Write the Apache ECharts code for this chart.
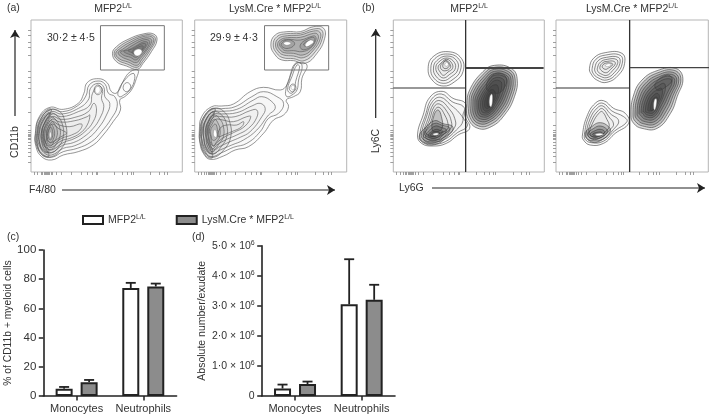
<!DOCTYPE html>
<html><head><meta charset="utf-8">
<style>html,body{margin:0;padding:0;background:#fff}#c{width:709px;height:414px}</style>
<script src="https://cdn.jsdelivr.net/npm/echarts@6/dist/echarts.min.js"></script>
</head><body><div id="c"></div>
<script>
// ---- bar chart data
const categories = ['Monocytes', 'Neutrophils'];
const seriesNames = ['MFP2', 'LysM.Cre * MFP2'];
const pctControl = [5, 74];
const pctControlUpper = [6.2, 77.5];
const pctCre = [9.5, 75];
const pctCreUpper = [11, 77];
const absControl = [0.25e6, 3.05e6];
const absControlUpper = [0.38e6, 4.55e6];
const absCre = [0.4e6, 3.2e6];
const absCreUpper = [0.48e6, 3.7e6];
const pctTicks = [0, 20, 40, 60, 80, 100];
const absTickLabels = ['0', '1·0', '2·0', '3·0', '4·0', '5·0'];
// ---- flow cytometry contours, in channel units (flat x,y lists)
const contoursA1 = [
[15,76,13,116,25,166,57,194,97,188,142,206,159,236,169,268,202,280,229,268,242,241,259,238,279,276,299,301,322,306,317,281,302,246,282,226,267,216,269,186,247,151,217,111,187,81,142,61,97,51,62,36,32,46],
[21,76,19,116,31,161,59,188,95,181,139,198,165,228,175,261,202,273,223,263,233,236,252,226,259,196,242,161,212,121,182,91,139,71,97,61,62,44,35,51],
[27,81,25,116,37,154,62,181,92,174,137,188,172,216,179,251,202,266,219,254,222,226,237,206,227,171,202,131,172,101,132,79,97,71,62,51,39,58],
[33,86,31,116,42,148,64,174,92,166,142,181,177,201,185,236,202,258,215,248,212,221,219,196,207,161,187,131,157,104,127,88,95,80,62,58,43,66],
[39,91,37,116,47,144,65,166,90,158,132,164,172,181,189,206,197,186,187,151,162,121,132,101,97,88,62,66,47,72],
[43,94,42,116,50,141,65,159,87,150,132,154,169,166,177,171,169,141,147,116,117,101,92,94,62,74,50,78],
[47,96,47,116,53,136,65,151,85,141,117,136,152,144,147,126,122,111,92,101,62,81,52,84],
[50,98,50,116,55,131,65,144,82,131,102,121,107,116,87,104,62,88,55,90],
[17,86,17,116,27,156,57,186,87,181,102,151,107,106,92,71,62,46,32,56],
[25,91,23,116,33,151,57,176,79,168,95,141,97,106,85,78,62,58,37,66],
[33,96,31,116,39,144,57,166,75,156,87,131,87,106,77,86,62,68,43,74],
[40,98,39,116,45,138,59,154,71,144,79,124,77,104,69,91,60,78,47,84],
[47,104,46,118,51,134,60,144,68,131,71,116,67,98,59,88,51,92],
[52,106,53,124,60,134,65,121,64,104,58,96],
[190,248,200,261,212,251,209,236,197,233],
[277,254,287,268,299,261,297,248,285,241],
[262,241,282,276,307,296,312,281,299,248,279,231,265,226],
[245,356,257,376,292,398,337,414,369,414,379,396,362,361,337,326,320,308,287,318,257,331],
[250,356,262,373,295,394,337,410,365,410,374,396,357,363,335,331,319,314,289,324,261,336],
[255,356,267,370,299,390,337,406,362,406,369,394,353,364,332,336,319,320,292,330,265,340],
[262,358,275,368,303,386,337,401,357,401,363,392,349,366,329,341,317,328,295,336,272,346],
[269,360,283,366,307,381,337,396,353,396,357,389,345,366,327,346,315,336,299,344,279,350],
[279,362,292,366,312,376,337,390,349,390,351,386,339,366,325,351,315,344,301,351,287,356],
[292,364,307,370,332,384,345,384,335,366,324,356,315,351,303,358],
[304,361,319,373,337,378,332,364,322,356,312,354],
[14,88,14,116,22,156,50,188,62,186,42,150,34,116,40,82,54,48,34,50],
[20,92,20,116,28,150,52,178,58,172,44,144,38,116,44,86,54,60,38,62]
];
const coresA1 = [[55,111,58,121,61,111,58,101],[193,248,200,257,208,250,205,238,197,236],[309,358,319,368,332,366,332,356,319,348]];
const contoursA2 = [
[228,381,241,411,276,421,316,421,356,436,386,431,389,401,366,356,331,326,296,334,261,336,241,351],
[235,381,246,406,276,415,316,416,356,429,380,426,382,401,361,361,328,334,296,340,264,343,246,356],
[242,381,251,401,278,409,316,411,356,423,374,420,376,400,356,366,326,343,296,348,266,351,251,361],
[248,381,256,396,278,403,316,404,356,416,368,413,369,398,351,368,324,351,296,356,268,358,256,366],
[254,383,262,394,281,398,316,396,354,408,362,406,362,394,346,371,321,361,296,364,271,364,261,371],
[259,384,276,396,296,391,298,381,281,371,264,374],
[316,381,336,398,358,403,356,386,341,371,321,368],
[326,383,341,394,351,394,349,384,336,376],
[16,86,14,126,21,166,51,196,81,198,116,204,166,241,206,254,256,246,276,261,291,301,306,326,336,321,321,281,316,241,296,226,274,216,281,196,266,171,236,156,206,116,161,76,121,66,86,48,46,38,26,56],
[22,91,20,126,28,161,52,188,81,190,121,196,171,226,206,241,246,226,266,206,251,176,221,161,196,121,156,86,116,74,81,58,48,46,30,64],
[28,96,26,126,34,156,54,181,81,182,126,188,176,216,201,226,231,211,241,191,221,171,186,126,146,96,111,81,76,66,50,54,34,71],
[34,101,32,126,40,151,56,173,81,174,126,178,171,198,196,206,211,191,201,166,166,121,136,104,106,91,71,74,52,61,38,78],
[41,104,38,126,46,148,59,166,81,166,121,166,166,184,186,186,186,164,161,131,126,111,96,98,66,81,54,70,44,86],
[48,106,44,126,52,144,63,158,84,156,116,151,156,166,168,166,151,138,116,118,91,106,66,88,56,78,50,91],
[96,141,126,141,146,151,141,136,111,121,86,111,71,106,76,131],
[19,96,18,131,28,166,56,191,88,181,106,146,108,106,91,71,56,44,28,61],
[27,101,26,131,36,161,56,181,81,171,96,141,96,106,81,78,56,54,36,71],
[35,104,34,131,42,154,58,171,76,158,86,136,86,106,74,86,56,66,42,81],
[43,106,42,128,48,146,60,158,71,144,76,126,74,104,66,91,56,78,46,91],
[49,108,48,126,54,138,62,144,68,128,68,106,61,96,53,96],
[284,254,294,264,303,254,296,241,286,244],
[272,241,284,284,301,326,321,321,311,276,306,246,291,231,276,226],
[278,248,291,286,306,321,314,316,302,271,298,246,288,236],
[16,90,16,126,24,160,50,190,62,186,42,150,36,116,42,82,54,44,34,48],
[22,94,22,122,30,152,52,180,58,172,44,144,40,116,46,86,54,58,38,60]
];
const coresA2 = [[56,111,60,128,66,116,64,104],[266,386,276,391,288,386,276,380],[331,383,346,396,356,391,346,381,334,376],[288,254,294,260,299,254,294,246]];
const contoursB1 = [
[105,311,120,346,165,361,205,341,210,301,185,271,150,258,117,276],
[113,311,125,340,163,354,198,338,202,304,180,278,150,266,122,282],
[121,312,131,334,162,348,191,334,194,306,175,286,150,274,128,288],
[128,313,137,330,162,342,184,329,186,308,170,293,151,282,135,294],
[135,314,143,326,161,338,177,325,178,310,165,300,151,290,141,300],
[142,316,149,328,161,334,172,321,171,311,159,304,147,306],
[149,320,157,333,168,323,165,313,153,311],
[73,111,90,171,110,224,147,242,180,221,217,206,215,171,230,131,195,111,160,86,120,78,85,86],
[80,113,97,171,115,218,145,234,177,211,213,194,210,166,223,138,193,118,157,91,120,84,88,92],
[85,114,100,166,118,211,143,224,173,201,200,176,210,154,190,126,155,98,120,90,90,98],
[90,116,105,161,121,204,141,214,167,191,185,161,185,134,153,104,120,96,93,104],
[93,118,109,156,123,196,139,204,162,181,175,151,173,131,147,111,120,101,97,109],
[97,120,113,151,125,186,138,194,155,171,165,144,163,128,140,116,120,106,101,113],
[78,108,100,136,125,154,147,146,180,134,160,104,125,82,90,88],
[90,106,105,131,125,146,145,141,170,131,155,106,125,88,97,91],
[97,109,110,126,127,138,143,134,160,126,147,108,125,94,103,98],
[105,111,117,122,130,128,143,124,150,121,140,110,125,101,110,104],
[111,112,125,120,140,118,133,110,120,106],
[117,126,123,171,135,186,145,166,147,131,130,121],
[222,201,230,246,270,301,305,320,355,311,373,281,365,226,335,171,295,136,255,131,225,161],
[228,201,235,242,273,295,305,314,351,306,367,279,359,228,331,176,293,143,257,138,231,164],
[234,201,240,238,276,289,305,308,347,301,361,277,353,230,327,181,291,150,259,145,237,167],
[240,201,245,234,279,283,305,302,343,296,355,275,347,232,323,186,290,156,261,152,243,170],
[246,201,250,230,282,277,305,296,339,291,349,273,341,234,319,191,289,162,263,159,249,173],
[252,201,255,226,285,271,305,290,335,286,343,271,335,236,315,196,288,168,265,166,255,176],
[257,201,261,224,287,264,305,282,329,280,335,266,329,236,311,200,288,174,268,172,260,181],
[263,201,267,224,289,258,305,274,323,272,327,260,321,234,307,204,289,180,271,178,265,186],
[269,201,273,224,290,251,303,261,315,258,315,231,303,206,290,186,275,184],
[275,201,280,226,291,244,302,246,308,231,300,208,290,194,280,191],
[282,204,285,226,293,238,300,234,301,216,293,198,285,196],
[280,254,305,294,340,284,330,246,305,236]
];
const coresB1 = [[155,322,161,329,166,322,160,317],[119,113,129,117,137,114,128,110],[290,201,291,226,297,234,299,216,295,196]];
const contoursB2 = [
[100,311,112,341,147,358,197,356,205,326,187,291,152,269,122,276,105,294],
[108,311,119,338,149,351,192,350,198,326,181,295,152,276,125,283,111,296],
[116,312,126,334,151,344,186,344,191,326,175,299,152,283,129,289,118,299],
[124,313,133,330,153,338,180,338,184,325,169,304,152,290,133,295,125,302],
[131,314,140,328,154,332,173,332,177,324,163,308,151,298,137,303],
[138,316,147,326,167,326,169,321,157,312,147,308],
[79,111,92,166,117,206,142,214,172,191,207,176,217,146,177,116,142,86,102,81,82,96],
[85,113,97,164,120,199,141,206,167,183,202,166,212,151,175,123,141,92,105,88,87,98],
[90,114,102,160,123,192,140,198,162,175,187,154,172,128,139,98,107,94,92,101],
[95,116,107,156,126,184,139,190,157,167,172,144,162,128,135,104,109,100,97,106],
[99,117,111,150,128,176,138,181,152,158,159,138,149,122,129,108,111,106,102,110],
[87,114,109,138,132,148,157,136,162,121,137,96,107,90],
[95,114,113,131,132,138,152,128,152,118,132,102,109,98],
[102,114,117,124,132,128,145,122,142,114,127,106,112,104],
[109,113,122,119,137,119,135,112,119,108],
[224,171,232,231,257,276,302,304,357,311,379,281,362,226,342,176,302,131,257,131,232,146],
[230,171,238,228,262,271,305,298,353,305,373,280,356,228,336,180,300,138,259,138,237,152],
[236,173,244,226,267,266,307,292,349,299,367,278,350,230,330,184,298,145,261,145,242,158],
[242,175,250,224,272,261,309,286,345,293,361,276,344,232,324,188,296,152,263,152,247,164],
[248,177,256,222,277,256,311,280,341,287,355,274,338,234,318,192,294,159,265,159,253,170],
[254,179,262,220,282,251,309,271,335,280,347,272,332,236,314,198,293,166,267,166,259,176],
[260,181,268,218,285,244,305,258,322,266,327,254,322,231,309,201,292,172,270,172,264,180],
[267,184,274,216,287,236,302,246,315,251,317,231,305,204,291,178,273,178],
[274,186,280,214,290,228,302,236,309,226,300,204,290,186,277,183],
[282,188,286,210,293,222,302,224,302,208,294,191,285,184],
[297,266,332,291,347,276,322,251,302,246]
];
const coresB2 = [[147,319,157,325,165,322,155,316],[117,112,129,116,141,113,129,109],[292,191,294,216,300,219,300,204,295,186]];
const gateBox = [[209,306],[401,306],[401,439],[209,439],[209,306]];
const quadB1 = {v:[[218,0],[218,456]], l:[[0,252],[218,252]], r:[[218,312],[453,312]]};
const quadB2 = {v:[[220,0],[220,456]], l:[[0,252],[220,252]], r:[[220,313],[457,313]]};
const flowXTicks = [10,20,30,35,40,44,47,50,53,56,60,65,75,90,120,150,170,185,195,200,250,275,290,300,307,360,385,400,410];
const flowYTicks = [29,48,60,70,80,90,98,102,106,110,114,118,125,140,179,225,250,270,285,303,350,375,390,411,425];

const FONT = '"Liberation Sans", Arial, sans-serif';
const TXT = '#333';
// fill density per contour range: [last index, opacity]
const shade = [
 [[7,.015],[13,.06],[16,0],[24,.11],[26,.09]],
 [[7,.09],[14,.015],[19,.06],[22,0],[24,.09]],
 [[12,.02],[18,.2],[30,.16]],
 [[10,.02],[14,.22],[25,.16]]
];
const alphaOf = (i,k) => shade[i].find(r => k <= r[0])[1];
const grids = [
 {left:31, top:20, width:151.3, height:152},
 {left:194.7, top:20, width:152, height:152},
 {left:393.3, top:20, width:151, height:152},
 {left:556, top:20, width:152.3, height:152},
 {left:43.3, top:250, width:133.3, height:146},
 {left:261.7, top:245.7, width:133.3, height:150.3}
].map(g => ({...g, show:false}));
grids.slice(0,4).forEach(g => {g.show = true; g.borderColor = '#b5b5b5'; g.borderWidth = 1; g.backgroundColor = '#fff';});

const xAxes = [], yAxes = [], series = [];
for (let i = 0; i < 4; i++) {
  xAxes.push({type:'value', gridIndex:i, min:0, max:455, splitLine:{show:false}, axisLine:{show:false}, axisLabel:{show:false},
    axisTick:{show:true, length:3, customValues:flowXTicks, lineStyle:{color:'#888', width:0.8}}});
  yAxes.push({type:'value', gridIndex:i, min:0, max:456, splitLine:{show:false}, axisLine:{show:false}, axisLabel:{show:false},
    axisTick:{show:true, length:3, customValues:flowYTicks, lineStyle:{color:'#888', width:0.8}}});
}
[[contoursA1,coresA1],[contoursA2,coresA2],[contoursB1,coresB1],[contoursB2,coresB2]].forEach(([cs,core],i) => {
  const draw = (list, styleOf) => (params, api) => {
    const idx = api.value(0), flat = list[idx], pts = [];
    for (let k = 0; k < flat.length; k += 2) pts.push(api.coord([flat[k], flat[k+1]]));
    return {type:'polygon', shape:{points:pts, smooth:0.45}, style:styleOf(idx)};
  };
  series.push({type:'custom', xAxisIndex:i, yAxisIndex:i, clip:false, silent:true, z:2,
    data:cs.map((c,k)=>[k,0]), encode:{x:1,y:1},
    renderItem:draw(cs,k=>({fill:`rgba(40,40,40,${alphaOf(i,k)})`, stroke:i<2?'#5c5c5c':'#3c3c3c', lineWidth:i<2?0.65:0.6}))});
  series.push({type:'custom', xAxisIndex:i, yAxisIndex:i, clip:false, silent:true, z:3,
    data:core.map((c,k)=>[k,0]), encode:{x:1,y:1},
    renderItem:draw(core,()=>({fill:'#fff', stroke:'#777', lineWidth:0.4}))});
});
const lineS = (i,data,color,width) => ({type:'line', xAxisIndex:i, yAxisIndex:i, data, symbol:'none', z:5, silent:true, animation:false, lineStyle:{color, width}});
series.push(lineS(0,gateBox,'#777',1), lineS(1,gateBox,'#777',1));
[quadB1,quadB2].forEach((q,n) => {
  series.push(lineS(2+n,q.v,'#333',1.3), lineS(2+n,q.l,'#333',1.2), lineS(2+n,q.r,'#444',n?1.2:2));
});
// bar panels
const BARW = 17, SHIFT = 12.5;
[[4,pctControl,pctControlUpper,pctCre,pctCreUpper],[5,absControl,absControlUpper,absCre,absCreUpper]].forEach(([g,a,au,b,bu]) => {
  [[a,au,'#fff',-1,seriesNames[0]],[b,bu,'#8c8c8c',1,seriesNames[1]]].forEach(([vals,ups,color,dir,name]) => {
    series.push({type:'bar', name, xAxisIndex:g, yAxisIndex:g, data:vals, barWidth:BARW, barGap:'47%', z:3,
      itemStyle:{color, borderColor:'#222', borderWidth:2}});
    series.push({type:'custom', xAxisIndex:g, yAxisIndex:g, z:2, silent:true,
      data:vals.map((v,k)=>[k,v,ups[k]]), encode:{x:0,y:[1,2]},
      renderItem:(p,api)=>{
        const lo = api.coord([api.value(0),api.value(1)]), hi = api.coord([api.value(0),api.value(2)]);
        const x = lo[0]+dir*SHIFT;
        return {type:'group', children:[
          {type:'line', shape:{x1:x,y1:lo[1],x2:x,y2:hi[1]}, style:{stroke:'#222',lineWidth:1.8}},
          {type:'line', shape:{x1:x-5,y1:hi[1],x2:x+5,y2:hi[1]}, style:{stroke:'#222',lineWidth:1.8}}
        ]};
      }});
  });
});
const axisStrong = {show:true, lineStyle:{color:'#222', width:1.6}};
const tickStrong = {show:true, length:4.5, lineStyle:{color:'#222', width:1.5}};
[4,5].forEach(g => xAxes.push({type:'category', gridIndex:g, data:categories, axisLine:axisStrong, axisTick:{...tickStrong, alignWithLabel:true},
  axisLabel:{color:TXT, fontFamily:FONT, fontSize:11, margin:7, interval:0}}));
yAxes.push({type:'value', gridIndex:4, min:0, max:100, interval:20, axisLine:axisStrong, axisTick:tickStrong, splitLine:{show:false},
  axisLabel:{color:TXT, fontFamily:FONT, fontSize:11.5, margin:7, formatter:v=>pctTicks.includes(v)?String(v):''},
  name:'% of CD11b + myeloid cells', nameLocation:'middle', nameGap:30, nameTextStyle:{color:TXT, fontFamily:FONT, fontSize:10.3}});
yAxes.push({type:'value', gridIndex:5, min:0, max:5e6, interval:1e6, axisLine:axisStrong, axisTick:tickStrong, splitLine:{show:false},
  axisLabel:{color:TXT, fontFamily:FONT, fontSize:10.5, margin:7,
    formatter:v=>{const s=absTickLabels[Math.round(v/1e6)]; return v===0?s:`${s} × 10{s|6}`;},
    rich:{s:{fontSize:7, fontFamily:FONT, color:TXT, padding:[0,0,5,0]}}},
  name:'Absolute number/exudate', nameLocation:'middle', nameGap:53, nameTextStyle:{color:TXT, fontFamily:FONT, fontSize:10.5}});

const rich = {s:{fontSize:7, fontFamily:FONT, color:TXT, padding:[0,0,5,0]}, t:{fontSize:10.5, fontFamily:FONT, color:TXT}};
const tt = (text,left,top,align) => ({text, left, top, textAlign:align||'left', padding:0, textStyle:{rich, fontSize:10.5, fontFamily:FONT, fontWeight:'normal', color:TXT}});
const titles = [
 tt('(a)',7,3), tt('{t|MFP2}{s|L/L}',113,3,'center'), tt('{t|LysM.Cre * MFP2}{s|L/L}',275,3,'center'),
 tt('(b)',362,3), tt('{t|MFP2}{s|L/L}',469,3,'center'), tt('{t|LysM.Cre * MFP2}{s|L/L}',632,3,'center'),
 tt('30·2 ± 4·5',47,33), tt('29·9 ± 4·3',210,33),
 tt('F4/80',29,185), tt('Ly6G',399,183), tt('(c)',7,232), tt('(d)',192,232)
];
const arrow = (x1,y1,x2,y2) => {
  const horiz = y1===y2, s=5, h=8;
  return [{type:'line', shape:{x1,y1,x2,y2}, style:{stroke:'#222', lineWidth:1.2}},
    {type:'polygon', shape:{points: horiz ? [[x2,y2],[x2-h,y2-s],[x2-h+2,y2],[x2-h,y2+s]] : [[x2,y2],[x2-s,y2+h],[x2,y2+h-2],[x2+s,y2+h]]}, style:{fill:'#222'}}];
};
const rotText = (text,x,y) => ({type:'text', x, y, rotation:Math.PI/2, style:{text, fill:TXT, font:`10.5px ${FONT}`, align:'center', verticalAlign:'middle'}});
const graphics = [...arrow(62,190,335,190), ...arrow(15,116,15,30), ...arrow(432,188,705,188), ...arrow(375.7,118,375.7,29),
  rotText('CD11b',15,142), rotText('Ly6C',375.7,141)];

const chart = echarts.init(document.getElementById('c'), null, {renderer:'canvas'});
chart.setOption({
  animation:false, backgroundColor:'#fff', title:titles, grid:grids, xAxis:xAxes, yAxis:yAxes, series, graphic:graphics,
  legend:{top:214, left:82, icon:'rect', itemWidth:20, itemHeight:8, itemGap:30, selectedMode:false, padding:0, data:seriesNames,
    itemStyle:{borderColor:'#222', borderWidth:2},
    formatter:n=>`{t|${n}}{s|L/L}`, textStyle:{color:TXT, fontFamily:FONT, fontSize:10.5, rich}}
});
</script></body></html>
